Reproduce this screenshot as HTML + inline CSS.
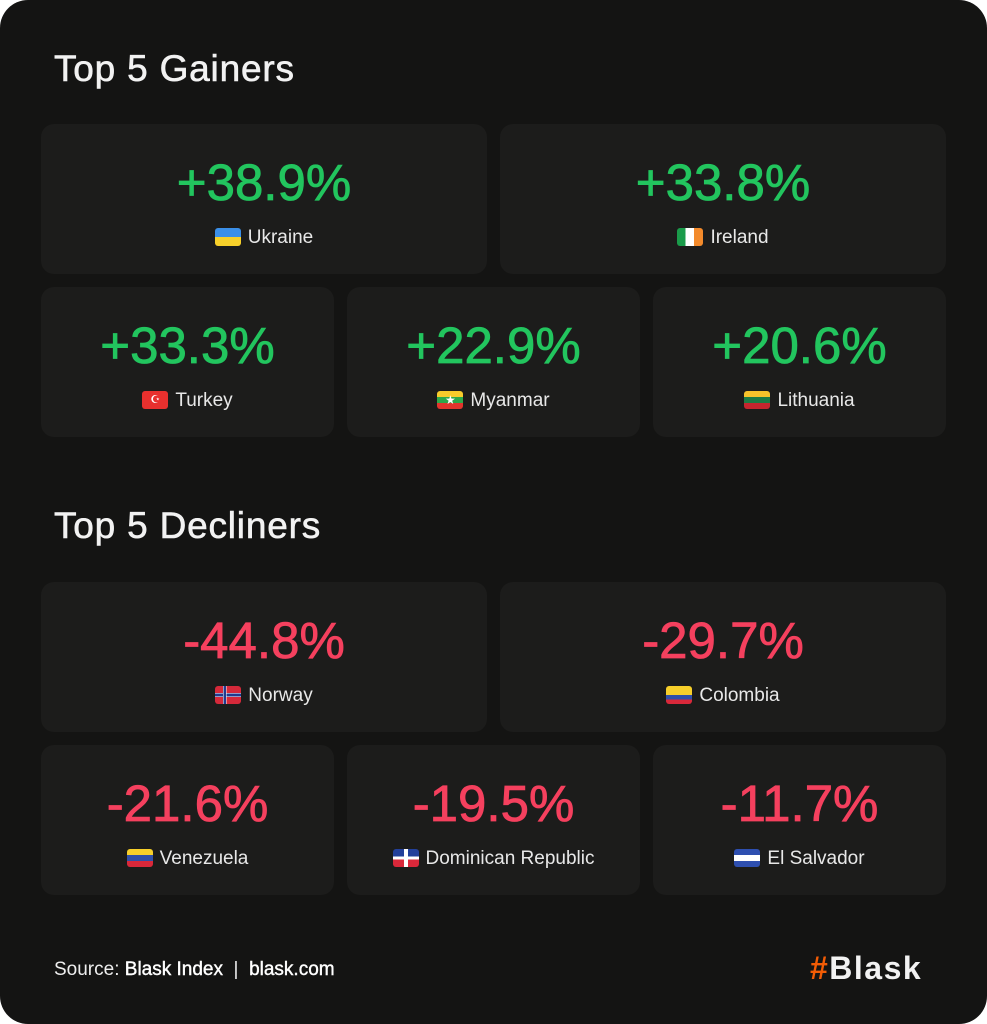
<!DOCTYPE html>
<html><head><style>
body{margin:0;background:#fff;width:987px;height:1024px;overflow:hidden;font-family:"Liberation Sans",sans-serif}
.wrap{position:absolute;left:0;top:0;width:987px;height:1024px;background:#141413;border-radius:28px}
h2{position:absolute;left:54px;margin:0;color:#f2f2f2;font-size:37px;font-weight:normal;letter-spacing:0.8px;-webkit-text-stroke:0.6px #f2f2f2}
.c{position:absolute;background:#1c1c1b;border-radius:13px;height:150px}
.v{position:absolute;left:0;right:0;top:29px;text-align:center;font-size:51px;letter-spacing:0}
.g{color:#22c55e;-webkit-text-stroke:0.8px #22c55e}.r{color:#f5405e;-webkit-text-stroke:0.8px #f5405e}
.n{position:absolute;left:0;right:0;top:103px;text-align:center;color:#e8e8e8;font-size:19px}
.f{display:inline-block;width:26px;height:18px;border-radius:3px;vertical-align:-3px;margin-right:7px;overflow:hidden}
.foot{position:absolute;left:54px;top:959px;color:#eee;font-size:19px;letter-spacing:0}
.logo{position:absolute;left:810px;top:950px;font-size:32px;font-weight:bold;color:#f2f2f2;letter-spacing:1.5px}
</style></head><body><div class="wrap">
<h2 style="top:48px">Top 5 Gainers</h2>
<div class="c" style="left:41px;top:124px;width:446px"><div class="v g">+38.9%</div><div class="n"><span class="f" style="background:linear-gradient(#3b8fe8 50%,#f7d02a 50%)"></span>Ukraine</div></div>
<div class="c" style="left:500px;top:124px;width:446px"><div class="v g">+33.8%</div><div class="n"><span class="f" style="background:linear-gradient(90deg,#1a9b4a 33%,#fff 33% 66%,#f38a2b 66%)"></span>Ireland</div></div>
<div class="c" style="left:41px;top:287px;width:293px"><div class="v g">+33.3%</div><div class="n"><span class="f" style="background:#e8302e;color:#fff;font-size:11px;text-align:center;line-height:18px">☪</span>Turkey</div></div>
<div class="c" style="left:347px;top:287px;width:293px"><div class="v g">+22.9%</div><div class="n"><span class="f" style="background:linear-gradient(#f7cb2b 33%,#2da84a 33% 66%,#e2352c 66%);color:#fff;font-size:12px;text-align:center;line-height:18px">★</span>Myanmar</div></div>
<div class="c" style="left:653px;top:287px;width:293px"><div class="v g">+20.6%</div><div class="n"><span class="f" style="background:linear-gradient(#f6c22b 33%,#1c7a45 33% 66%,#c4262e 66%)"></span>Lithuania</div></div>
<h2 style="top:505px">Top 5 Decliners</h2>
<div class="c" style="left:41px;top:582px;width:446px"><div class="v r">-44.8%</div><div class="n"><span class="f" style="background:linear-gradient(90deg,transparent 30%,#fff 30% 33%,#213a8f 33% 42%,#fff 42% 45%,transparent 45%),linear-gradient(transparent 38%,#fff 38% 42%,#213a8f 42% 58%,#fff 58% 62%,transparent 62%),#d5293a"></span>Norway</div></div>
<div class="c" style="left:500px;top:582px;width:446px"><div class="v r">-29.7%</div><div class="n"><span class="f" style="background:linear-gradient(#f7cf2a 50%,#2f4fa8 50% 75%,#d9283a 75%)"></span>Colombia</div></div>
<div class="c" style="left:41px;top:745px;width:293px"><div class="v r">-21.6%</div><div class="n"><span class="f" style="background:linear-gradient(#f7cf2a 33%,#2f4fa8 33% 66%,#d9283a 66%)"></span>Venezuela</div></div>
<div class="c" style="left:347px;top:745px;width:293px"><div class="v r">-19.5%</div><div class="n"><span class="f" style="background:linear-gradient(90deg,transparent 42%,#fff 42% 58%,transparent 58%),linear-gradient(#23409a 42%,#fff 42% 58%,#d9283a 58%)"></span>Dominican Republic</div></div>
<div class="c" style="left:653px;top:745px;width:293px"><div class="v r">-11.7%</div><div class="n"><span class="f" style="background:linear-gradient(#2e4fb0 33%,#fff 33% 66%,#2e4fb0 66%)"></span>El Salvador</div></div>
<div class="foot">Source: <span style="color:#fff;-webkit-text-stroke:0.4px #fff">Blask Index</span> &nbsp;|&nbsp; <span style="color:#fff;-webkit-text-stroke:0.4px #fff">blask.com</span></div>
<div class="logo"><span style="color:#f25c05">#</span>Blask</div>
</div></body></html>
